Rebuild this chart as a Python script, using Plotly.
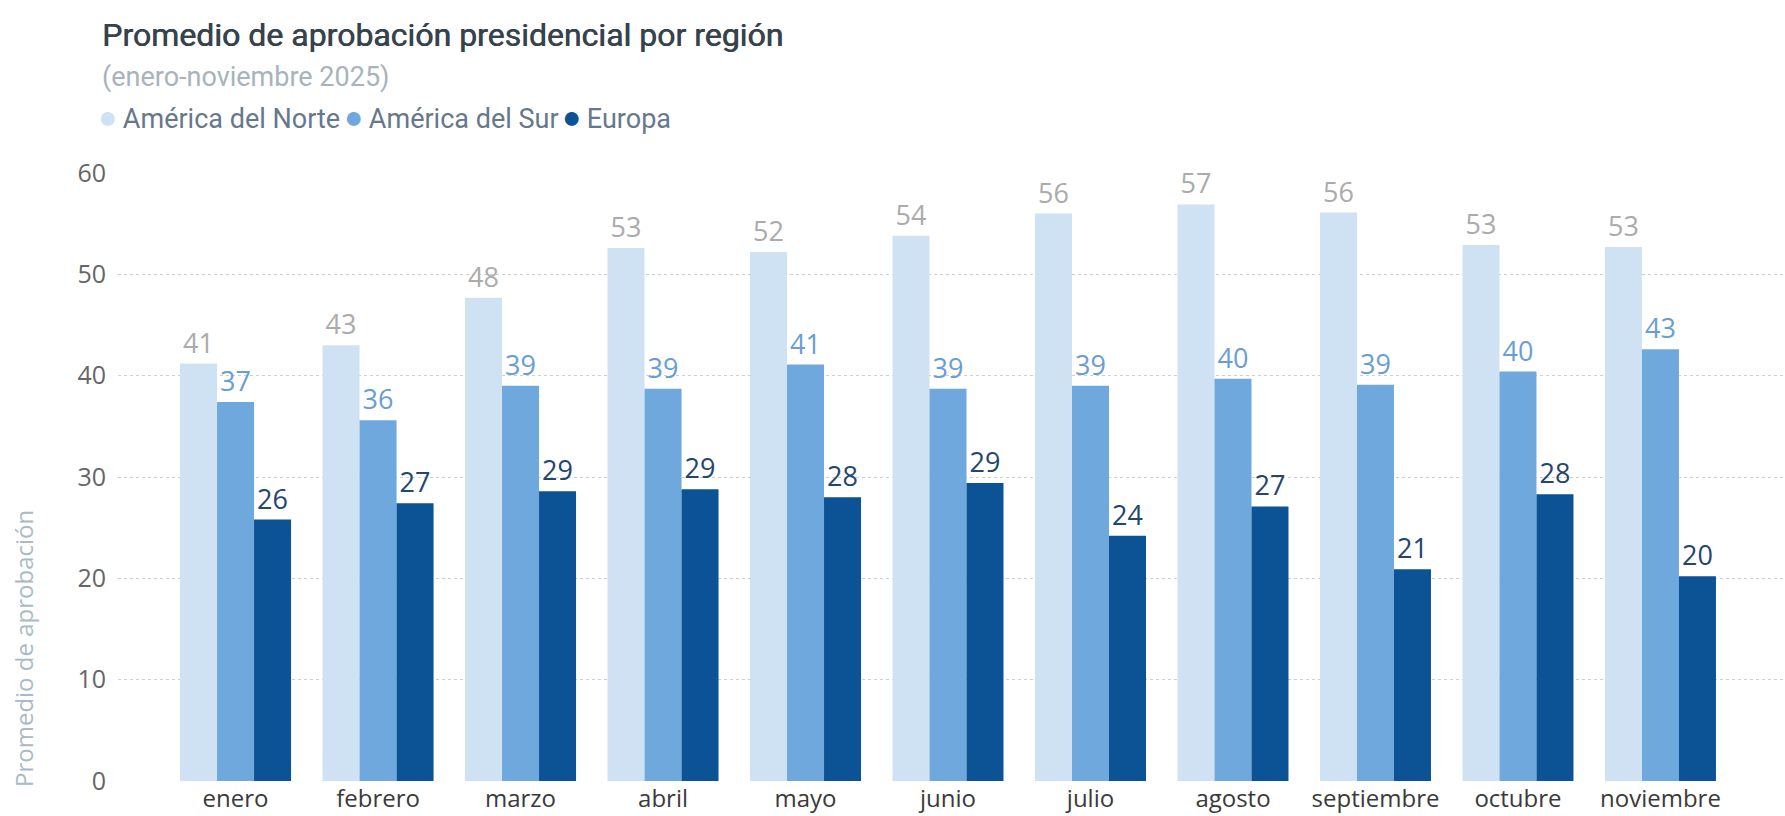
import plotly.graph_objects as go

# Monthly average presidential approval by region, Jan–Nov 2025
meses = ["enero", "febrero", "marzo", "abril", "mayo", "junio",
         "julio", "agosto", "septiembre", "octubre", "noviembre"]
america_norte = [41.2, 43.0, 47.7, 52.6, 52.2, 53.8, 56.0, 56.9, 56.1, 52.9, 52.7]
america_sur = [37.4, 35.6, 39.0, 38.7, 41.1, 38.7, 39.0, 39.7, 39.1, 40.4, 42.6]
europa = [25.8, 27.4, 28.6, 28.8, 28.0, 29.4, 24.2, 27.1, 20.9, 28.3, 20.2]
y_ticks = [0, 10, 20, 30, 40, 50, 60]

W, H = 1785, 816
M_L, M_R, M_T, M_B = 118, 0, 173, 35
PLOT_W = W - M_L - M_R
PLOT_H = H - M_T - M_B


def px_x(px):
    return (px - M_L) / PLOT_W


def px_y(py):
    return (H - M_B - py) / PLOT_H


series = [
    ("América del Norte", america_norte, "#CFE2F3", "#ABABAB"),
    ("América del Sur", america_sur, "#6FA8DC", "#6A9ED3"),
    ("Europa", europa, "#0B5394", "#23466E"),
]

fig = go.Figure()
for name, vals, color, label_color in series:
    fig.add_trace(go.Bar(
        x=meses, y=vals, name=name,
        marker=dict(color=color, line=dict(width=0)),
        text=vals, texttemplate="%{y:.0f}", textposition="outside",
        textfont=dict(family="Open Sans", size=27, color=label_color),
        constraintext="none", cliponaxis=False, showlegend=False,
        hovertemplate=name + "<br>%{x}: %{y:.1f}<extra></extra>",
    ))

TITLE_COLOR = "#36434D"
annotations = [
    dict(text="Promedio de aprobación presidencial por región",
         x=px_x(100), y=px_y(35), xanchor="left", yanchor="middle",
         font=dict(family="Roboto", size=32, color=TITLE_COLOR,
                   shadow=f"0.6px 0 0 {TITLE_COLOR}")),
    dict(text="(enero-noviembre 2025)",
         x=px_x(100), y=px_y(77), xanchor="left", yanchor="middle",
         font=dict(family="Roboto", size=27, color="#A8B3BC")),
    dict(text="Promedio de aprobación", textangle=-90,
         x=px_x(23), y=px_y(649), xanchor="center", yanchor="middle",
         font=dict(family="Open Sans", size=24, color="#A9BAC6")),
]

# Legend row: colored dot followed by the region name
legend_x = [96, 342, 560]
for (name, _, color, _), lx in zip(series, legend_x):
    annotations.append(dict(
        text=f"<span style='color:{color};font-size:32px'>●</span>\u2009{name}",
        x=px_x(lx), y=px_y(117), xanchor="left", yanchor="middle",
        font=dict(family="Roboto", size=27, color="#66788A"),
    ))

for a in annotations:
    a.update(xref="paper", yref="paper", showarrow=False)

fig.update_layout(
    width=W, height=H,
    margin=dict(l=M_L, r=M_R, t=M_T, b=M_B, pad=0, autoexpand=False),
    paper_bgcolor="white", plot_bgcolor="white",
    barmode="group", bargap=0.221, bargroupgap=0,
    annotations=annotations,
    showlegend=False,
    xaxis=dict(
        range=[-0.825, 10.874], showgrid=False, zeroline=False, showline=False,
        automargin=False, ticks="", ticklabelstandoff=1,
        tickfont=dict(family="Open Sans", size=24, color="#3A3A3A"),
    ),
    yaxis=dict(
        range=[0, 60], tickvals=y_ticks, showline=False, zeroline=False,
        showgrid=True, gridcolor="#CFCFCF", griddash="dot", gridwidth=1,
        automargin=False, ticks="", ticklabelstandoff=11,
        tickfont=dict(family="Open Sans", size=25, color="#666666"),
    ),
)

fig.write_html("out.html")
